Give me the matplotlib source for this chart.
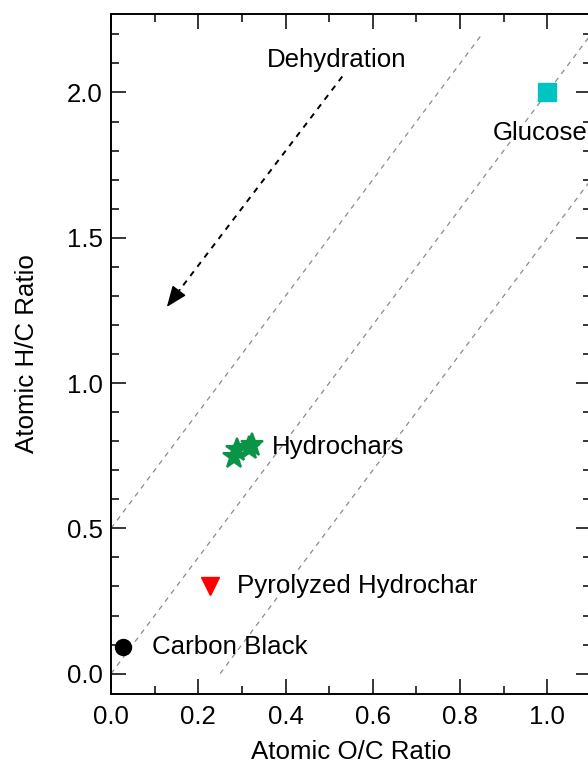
import matplotlib
matplotlib.use("Agg")
import matplotlib.pyplot as plt
from matplotlib.ticker import MultipleLocator
import numpy as np

plt.rcParams["font.family"] = ["Liberation Sans", "DejaVu Sans"]
plt.rcParams["font.size"] = 18.6

# Van Krevelen coordinates (atomic O/C, atomic H/C)
glucose_oc, glucose_hc = [1.0], [2.0]
hydrochar_oc = [0.281, 0.288, 0.316, 0.322]
hydrochar_hc = [0.745, 0.770, 0.776, 0.788]
pyro_oc, pyro_hc = [0.227], [0.303]
carbon_oc, carbon_hc = [0.027], [0.093]

# dehydration reference lines H/C = 2*O/C + b
line_intercepts = [0.5, 0.0, -0.5]
line_top = 2.2

# dehydration arrow start / end
arrow_start = (0.530, 2.055)
arrow_end = (0.128, 1.262)

C_GLUCOSE = "#00C4C4"
C_HYDRO = "#0A9447"
C_PYRO = "#FF0000"

fig = plt.figure(figsize=(5.88, 7.68), dpi=100)
ax = fig.add_axes([111 / 588, 1 - 694 / 768, 480 / 588, 680 / 768])

for b in line_intercepts:
    x0 = max(0.0, -b / 2)
    x1 = (line_top - b) / 2
    xs = np.array([x0, x1])
    ax.plot(xs, 2 * xs + b, color="#8a8a8a", lw=0.9, dashes=(4, 4), zorder=1)

# arrow: dashed shaft, solid head
ax.plot([arrow_start[0], arrow_end[0] + 0.02], [arrow_start[1], arrow_end[1] + 0.04],
        color="black", lw=1.4, dashes=(3, 3), zorder=2)
ax.annotate("", xy=arrow_end, xytext=(arrow_end[0] + 0.03, arrow_end[1] + 0.06),
            arrowprops=dict(arrowstyle="-|>,head_length=0.7,head_width=0.28",
                            color="black", lw=1.0, shrinkA=0, shrinkB=0), zorder=3)
ax.text(0.518, 2.11, "Dehydration", ha="center", va="center")

ax.plot(glucose_oc, glucose_hc, "s", color=C_GLUCOSE, ms=13, mec=C_GLUCOSE, zorder=4)
ax.plot(hydrochar_oc, hydrochar_hc, "*", color=C_HYDRO, ms=17, mec=C_HYDRO, mew=1.5,
        ls="none", zorder=4)
ax.plot(pyro_oc, pyro_hc, "v", color=C_PYRO, ms=13, mec=C_PYRO, zorder=4)
ax.plot(carbon_oc, carbon_hc, "o", color="black", ms=11.5, zorder=4)

ax.text(0.874, 1.862, "Glucose", ha="left", va="center")
ax.text(0.369, 0.781, "Hydrochars", ha="left", va="center")
ax.text(0.289, 0.300, "Pyrolyzed Hydrochar", ha="left", va="center")
ax.text(0.094, 0.093, "Carbon Black", ha="left", va="center")

ax.set_xlim(0, 1.1)
ax.set_ylim(-0.07, 2.27)
ax.xaxis.set_major_locator(MultipleLocator(0.2))
ax.xaxis.set_minor_locator(MultipleLocator(0.1))
ax.yaxis.set_major_locator(MultipleLocator(0.5))
ax.yaxis.set_minor_locator(MultipleLocator(0.1))
ax.tick_params(which="both", direction="in", top=True, right=True, width=1.1)
ax.tick_params(which="major", length=11, pad=6)
ax.tick_params(which="minor", length=5.5)
ax.tick_params(axis="x", which="major", pad=8)
for sp in ax.spines.values():
    sp.set_linewidth(1.4)

ax.set_xlabel("Atomic O/C Ratio", labelpad=8)
ax.set_ylabel("Atomic H/C Ratio", labelpad=20)

fig.savefig("out.png", dpi=100)
